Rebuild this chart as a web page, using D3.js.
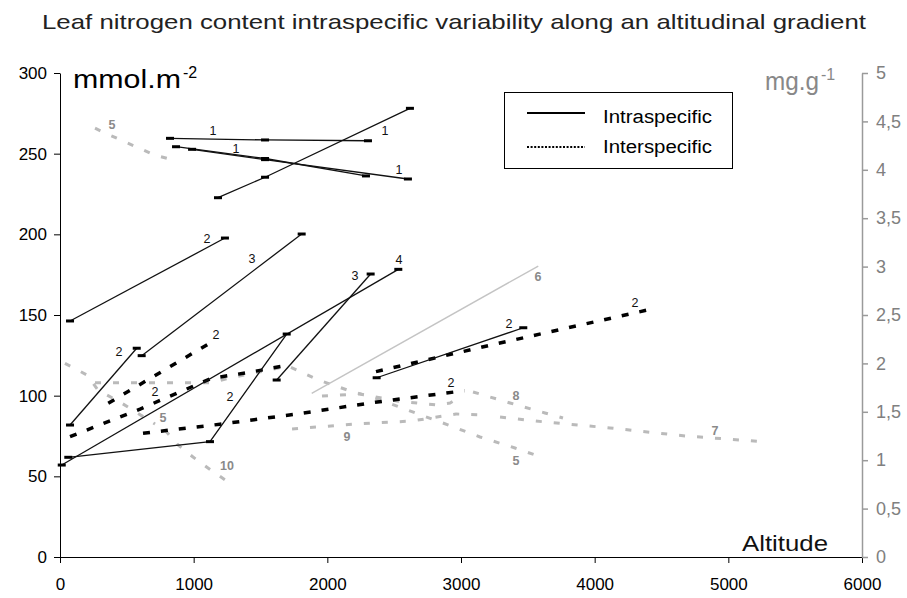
<!DOCTYPE html>
<html><head><meta charset="utf-8">
<script src="https://cdn.jsdelivr.net/npm/d3@7"></script>
<style>
body{margin:0;background:#fff}
svg{display:block}
text{font-family:'Liberation Sans',Arial,Helvetica,sans-serif}
</style>
</head><body><svg id="chart" width="907" height="598"></svg>
<script>
// ---------- DATA (altitude in m, values in mmol.m-2 or mg.g-1) ----------
const title = "Leaf nitrogen content intraspecific variability along an altitudinal gradient";
const xTicks = [0, 1000, 2000, 3000, 4000, 5000, 6000];
const leftTicks = [0, 50, 100, 150, 200, 250, 300];
const rightTicks = [0, 0.5, 1, 1.5, 2, 2.5, 3, 3.5, 4, 4.5, 5];
const legendLabels = ["Intraspecific", "Interspecific"];

// Intraspecific (solid black, mmol.m-2)
const intra1a = [[823, 259.5], [1534, 258.5], [2304, 258.0]];
const intra1b = [[1182, 222.7], [1534, 235.4], [2618, 278.1]];
const intra1c = [[868, 254.3], [1534, 247.0], [2289, 236.2]];
const intra1d = [[988, 252.7], [1534, 246.3], [2603, 234.3]];
const intra2a = [[75, 146.3], [1234, 197.7]];
const intra2b = [[75, 81.8], [574, 129.4]];
const intra3a = [[611, 124.8], [1808, 200.2]];
const intra4  = [[13, 57.0], [2531, 178.3]];
const intra2c = [[62, 61.8], [1122, 71.5], [1696, 138.2]];
const intra3b = [[1621, 109.7], [2324, 175.4]];
const intra2d = [[2369, 111.1], [3466, 142.1]];

// Interspecific, black dashed (mmol.m-2)
const inter2p = [[75, 74.6], [599, 91.7], [1135, 110.8], [1421, 114.5], [1708, 119.0]];
const inter2q = [[361, 95.3], [1109, 132.0]];
const inter2r = [[621, 76.7], [1197, 82.3], [1771, 88.6], [2332, 95.6], [3025, 103.1]];
const inter2s = [[2364, 114.9], [3204, 131.0], [4428, 153.7]];

// Grey series (mg.g-1)
const grey5top = [[262, 4.43], [322, 4.39], [711, 4.15], [823, 4.11]];
const grey5mid = [[37, 2.0], [202, 1.88], [284, 1.725], [449, 1.6], [711, 1.374]];
const grey10   = [[786, 1.31], [883, 1.157], [995, 1.033], [1107, 0.92], [1257, 0.775]];
const grey5low = [[262, 1.8], [1122, 1.8], [1309, 1.86], [1706, 1.973], [1930, 1.83], [2192, 1.705],
                  [2357, 1.643], [2596, 1.52], [2865, 1.384], [3142, 1.24], [3404, 1.126], [3554, 1.054]];
const greyFlat = [[1960, 1.663], [2244, 1.684], [2521, 1.612], [2820, 1.57], [2918, 1.591], [2970, 1.632]];
const grey8    = [[3090, 1.705], [3367, 1.591], [3628, 1.488], [3763, 1.436]];
const grey9    = [[1736, 1.322], [2207, 1.374], [2633, 1.405], [2963, 1.477], [3194, 1.467]];
const grey7    = [[3292, 1.446], [3628, 1.395], [4115, 1.333], [4676, 1.25], [5297, 1.188]];
const grey6    = [[1883, 1.691], [3578, 3.006]];

// Series labels: [text, altitude, value, axis]
const seriesLabels = [
  ["1", 1145, 264.1, "L"], ["1", 2431, 264.1, "L"], ["1", 1317, 252.9, "L"], ["1", 2536, 239.9, "L"],
  ["2", 1100, 197.1, "L"], ["2", 441, 127.1, "L"], ["3", 1436, 184.7, "L"], ["4", 2536, 184.1, "L"],
  ["3", 2207, 174.2, "L"], ["2", 1272, 99.2, "L"], ["2", 3359, 144.4, "L"], ["2", 1167, 137.6, "L"],
  ["2", 711, 102.3, "L"], ["2", 2925, 107.9, "L"], ["2", 4302, 157.4, "L"],
  ["6", 3576, 2.90, "R"], ["5", 389, 4.463, "R"], ["5", 771, 1.436, "R"], ["10", 1249, 0.94, "R"],
  ["9", 2147, 1.24, "R"], ["8", 3411, 1.663, "R"], ["5", 3411, 0.992, "R"], ["7", 4900, 1.302, "R"]
];

// ---------- CHART ----------
const svg = d3.select("#chart");
const x = d3.scaleLinear().domain([0, 6000]).range([60, 862]);
const yL = d3.scaleLinear().domain([0, 300]).range([557, 73]);
const yR = d3.scaleLinear().domain([0, 5]).range([557, 73]);

const intraSeries = [intra1a, intra1b, intra1c, intra1d, intra2a, intra2b, intra3a, intra4, intra2c, intra3b, intra2d];
const interBlack = [inter2p, inter2q, inter2r, inter2s];
const interGrey = [grey5top, grey5mid, grey10, grey5low, greyFlat, grey8, grey9, grey7];

// Title
svg.append("text").attr("x", 454).attr("y", 29).attr("text-anchor", "middle")
  .attr("font-size", 21).attr("fill", "#222").attr("textLength", 824).attr("lengthAdjust", "spacingAndGlyphs")
  .text(title);

// Axes
const gL = svg.append("g").attr("transform", "translate(60,0)")
  .call(d3.axisLeft(yL).tickValues(leftTicks).tickSize(6).tickSizeOuter(0).tickPadding(7).tickFormat(d3.format("d")));
gL.selectAll("text").attr("font-size", 17).attr("fill", "#000");
gL.selectAll("line,path").attr("stroke", "#000");

const gB = svg.append("g").attr("transform", "translate(0,557)")
  .call(d3.axisBottom(x).tickValues(xTicks).tickSize(6).tickSizeOuter(0).tickPadding(15).tickFormat(d3.format("d")));
gB.selectAll("text").attr("font-size", 17).attr("fill", "#000");
gB.selectAll("line,path").attr("stroke", "#000");

const gR = svg.append("g").attr("transform", `translate(${x(6000)},0)`)
  .call(d3.axisRight(yR).tickValues(rightTicks).tickSize(6).tickSizeOuter(0).tickPadding(8)
    .tickFormat(d => String(d).replace(".", ",")));
gR.selectAll("text").attr("font-size", 18).attr("fill", "#808080");
gR.selectAll("line,path").attr("stroke", "#9a9a9a").attr("stroke-width", 1.5);

// Line generators
const lineL = d3.line().x(d => x(d[0])).y(d => yL(d[1]));
const lineR = d3.line().x(d => x(d[0])).y(d => yR(d[1]));

// Grey dashed (mg.g-1)
svg.append("g").selectAll("path").data(interGrey).join("path")
  .attr("d", lineR).attr("fill", "none").attr("stroke", "#bababa")
  .attr("stroke-width", 3).attr("stroke-dasharray", "6,12");

// Grey solid
svg.append("path").datum(grey6).attr("d", lineR).attr("fill", "none")
  .attr("stroke", "#c4c4c4").attr("stroke-width", 1.4);

// Black dashed
svg.append("g").selectAll("path").data(interBlack).join("path")
  .attr("d", lineL).attr("fill", "none").attr("stroke", "#000")
  .attr("stroke-width", 3.5).attr("stroke-dasharray", "7,11");

// Intraspecific solid
svg.append("g").selectAll("path").data(intraSeries).join("path")
  .attr("d", lineL).attr("fill", "none").attr("stroke", "#111").attr("stroke-width", 1.3);

// markers
svg.append("g").selectAll("rect").data(intraSeries.flat()).join("rect")
  .attr("x", d => x(d[0]) - 4).attr("y", d => yL(d[1]) - 1.5)
  .attr("width", 8).attr("height", 3).attr("fill", "#000");

// Series labels
svg.append("g").selectAll("text").data(seriesLabels).join("text")
  .attr("x", d => x(d[1])).attr("y", d => (d[3] === "L" ? yL(d[2]) : yR(d[2])))
  .attr("dy", "0.35em").attr("text-anchor", "middle")
  .attr("font-size", 12.5).attr("fill", d => d[3] === "L" ? "#111" : "#8a8a8a")
  .attr("font-weight", d => d[3] === "L" ? "normal" : "bold")
  .text(d => d[0]);

// Axis unit labels
const mm = svg.append("text").attr("x", 73).attr("y", 88).attr("font-size", 25).attr("fill", "#000");
mm.append("tspan").attr("textLength", 108).attr("lengthAdjust", "spacingAndGlyphs").text("mmol.m");
mm.append("tspan").attr("dx", 2).attr("dy", -10).attr("font-size", 16).text("-2");

const mg = svg.append("text").attr("x", 765).attr("y", 90).attr("font-size", 25).attr("fill", "#888");
mg.append("tspan").attr("textLength", 54).attr("lengthAdjust", "spacingAndGlyphs").text("mg.g");
mg.append("tspan").attr("dx", 2).attr("dy", -10).attr("font-size", 16).text("-1");

svg.append("text").attr("x", 742).attr("y", 551)
  .attr("font-size", 22).attr("fill", "#111")
  .attr("textLength", 86).attr("lengthAdjust", "spacingAndGlyphs").text("Altitude");

// Legend
const lg = svg.append("g");
lg.append("rect").attr("x", 504.5).attr("y", 92.5).attr("width", 228).attr("height", 76)
  .attr("fill", "#fff").attr("stroke", "#000").attr("stroke-width", 1);
lg.append("line").attr("x1", 527).attr("x2", 585).attr("y1", 113).attr("y2", 113)
  .attr("stroke", "#000").attr("stroke-width", 2.2);
lg.append("line").attr("x1", 527).attr("x2", 585).attr("y1", 147).attr("y2", 147)
  .attr("stroke", "#000").attr("stroke-width", 2).attr("stroke-dasharray", "2,1.6");
lg.selectAll("text.lg").data(legendLabels).join("text").attr("class", "lg")
  .attr("x", 603).attr("y", (d, i) => 117 + i * 30).attr("dy", "0.35em")
  .attr("font-size", 18).attr("fill", "#000")
  .attr("textLength", 109).attr("lengthAdjust", "spacingAndGlyphs").text(d => d);
</script></body></html>
